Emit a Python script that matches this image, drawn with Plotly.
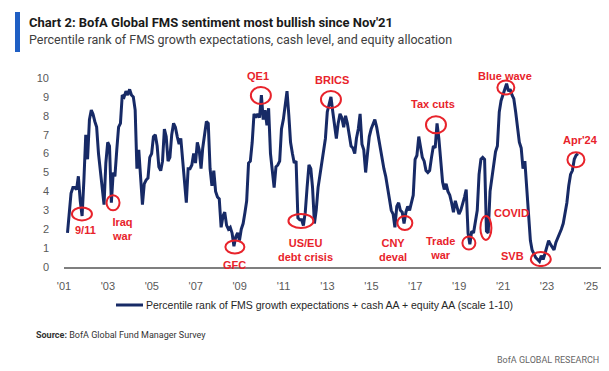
import pandas as pd
import plotly.graph_objects as go

# ---------------- data (monthly, Jan 2001 .. Apr 2024) ----------------
y2001 = [1.8, 2.9, 3.9, 4.2, 4.2, 4.1, 4.8, 3.5, 2.7, 4.6, 7.0, 5.7]
y2002 = [7.8, 8.3, 8.1, 7.7, 7.4, 6.0, 5.1, 4.5, 3.3, 5.5, 6.6, 6.4]
y2003 = [3.4, 5.0, 4.8, 6.2, 7.4, 7.6, 9.1, 9.0, 9.3, 9.1, 9.4, 9.1]
y2004 = [9.0, 8.3, 5.2, 6.2, 4.8, 3.3, 4.4, 4.6, 4.7, 5.8, 6.0, 6.9]
y2005 = [7.0, 6.4, 5.3, 5.1, 5.6, 7.3, 6.9, 5.6, 5.8, 7.0, 7.6, 7.4]
y2006 = [6.9, 6.5, 6.8, 5.5, 4.3, 3.4, 5.2, 5.2, 5.4, 6.0, 5.5, 6.6]
y2007 = [6.2, 5.2, 6.3, 7.1, 7.7, 7.6, 5.2, 4.3, 5.1, 4.0, 3.7, 3.6]
y2008 = [2.1, 2.7, 2.9, 2.2, 2.0, 2.1, 1.8, 1.1, 1.6, 1.8, 1.4, 2.0]
y2009 = [2.3, 2.9, 3.5, 5.5, 5.6, 6.6, 8.1, 7.9, 8.1, 7.9, 9.1, 7.8]
y2010 = [8.3, 7.5, 8.4, 6.0, 5.2, 4.2, 5.3, 5.4, 5.6, 7.3, 7.8, 8.7]
y2011 = [9.3, 8.0, 6.6, 6.0, 5.5, 5.6, 2.6, 2.5, 2.5, 2.2, 2.9, 4.2]
y2012 = [5.4, 5.2, 4.2, 2.3, 3.0, 4.2, 4.9, 5.5, 6.2, 6.8, 8.2, 8.6]
y2013 = [9.0, 8.2, 7.5, 6.8, 7.6, 8.1, 7.9, 7.4, 8.0, 7.6, 7.0, 6.4]
y2014 = [6.3, 6.0, 6.8, 7.3, 8.1, 6.5, 6.2, 5.0, 6.0, 6.9, 7.3, 7.5]
y2015 = [7.8, 7.4, 6.9, 6.3, 5.6, 5.2, 4.8, 4.3, 3.6, 3.0, 2.8, 2.1]
y2016 = [3.2, 3.4, 3.0, 2.9, 2.3, 2.9, 3.2, 3.0, 3.4, 3.8, 5.7, 5.9]
y2017 = [6.9, 6.2, 5.8, 5.6, 5.1, 5.0, 5.1, 5.8, 6.4, 6.3, 7.6, 6.8]
y2018 = [5.8, 4.5, 4.1, 4.4, 4.0, 3.8, 3.4, 2.9, 3.5, 3.2, 2.8, 3.0]
y2019 = [3.3, 3.7, 4.1, 1.8, 1.2, 1.9, 1.8, 2.5, 3.0, 4.9, 5.7, 5.8]
y2020 = [5.7, 1.9, 1.8, 4.0, 4.8, 5.5, 6.1, 6.4, 8.2, 8.8, 9.1, 9.5]
y2021 = [9.7, 9.3, 9.4, 9.1, 8.9, 8.2, 7.4, 6.6, 6.3, 5.2, 5.6, 4.2]
y2022 = [2.6, 1.4, 0.9, 0.7, 0.5, 0.4, 0.3, 0.6, 0.4, 0.7, 1.0, 1.4]
y2023 = [1.2, 1.0, 0.9, 1.3, 1.5, 1.8, 2.0, 2.3, 2.8, 3.4, 4.3, 4.9]
y2024 = [5.1, 5.7, 5.9, 6.0]

values = (y2001 + y2002 + y2003 + y2004 + y2005 + y2006 + y2007 + y2008 +
          y2009 + y2010 + y2011 + y2012 + y2013 + y2014 + y2015 + y2016 +
          y2017 + y2018 + y2019 + y2020 + y2021 + y2022 + y2023 + y2024)
dates = pd.date_range("2001-01-01", periods=len(values), freq="MS")

tick_years = ["'01", "'03", "'05", "'07", "'09", "'11", "'13", "'15", "'17",
              "'19", "'21", "'23", "'25"]
y_ticks = [0, 1, 2, 3, 4, 5, 6, 7, 8, 9, 10]

# event annotations: label, circle centre (months after Jan-01, value), circle size, label position
evt_text = ["9/11", "Iraq<br>war", "GFC", "QE1", "US/EU<br>debt crisis", "BRICS",
            "CNY<br>deval", "Tax cuts", "Trade<br>war", "COVID", "Blue wave", "SVB", "Apr'24"]
circ_m = [7.9, 24.9, 91.5, 105.7, 127.6, 144.0, 184.4, 201.4, 219.4, 228.7, 239.6, 258.7, 277.9]
circ_v = [2.81, 3.4, 1.06, 9.07, 2.44, 8.86, 2.33, 7.53, 1.27, 2.07, 9.5, 0.42, 5.68]
circ_w = [20, 13, 19, 20, 25, 20, 15, 20, 13, 11, 17, 20, 17]
circ_h = [13, 15, 13, 17, 14, 17, 14, 17, 13, 24, 14, 14, 15]
text_m = [9.6, 30.3, 91.5, 104.1, 130.3, 144.5, 177.9, 199.7, 204.1, 242.9, 239.1, 243.3, 280.6]
text_v = [1.96, 2.0, 0.1, 10.13, 0.9, 9.87, 0.9, 8.6, 1.0, 2.86, 10.13, 0.58, 6.74]

BASE = pd.Timestamp("2001-01-01")


def mdate(m):
    return (BASE + pd.Timedelta(days=m * 30.4375)).strftime("%Y-%m-%d %H:%M")


NAVY = "#172a66"
RED = "#e8232b"
GRAY = "#595959"
FONT = "Liberation Sans, Arial, sans-serif"

W, H = 609, 371
L, R, T, B = 56, 6, 70, 112
PW, PH = W - L - R, H - T - B
PX_PER_UNIT = PH / 10.0

fig = go.Figure()
fig.add_trace(go.Scatter(x=dates, y=values, mode="lines",
                         line=dict(color=NAVY, width=3),
                         name="Percentile rank", showlegend=False,
                         hoverinfo="skip"))

tickvals = [f"{2000 + 2 * i}-11-04" for i in range(len(tick_years))]

fig.update_layout(
    width=W, height=H,
    margin=dict(l=L, r=R, t=T, b=B),
    paper_bgcolor="white", plot_bgcolor="white",
    font=dict(family=FONT, size=11, color=GRAY),
    xaxis=dict(type="date", range=["2000-11-04", "2025-10-04"],
               tickvals=tickvals, ticktext=tick_years,
               showgrid=False, zeroline=False, showline=True,
               linecolor="#7f7f7f", linewidth=2, ticks="",
               ticklabelstandoff=8,
               tickfont=dict(family=FONT, size=11, color=GRAY)),
    yaxis=dict(range=[0, 10], tickvals=y_ticks, showgrid=False,
               zeroline=False, showline=False, ticks="",
               ticklabelstandoff=14,
               tickfont=dict(family=FONT, size=11, color=GRAY)),
)

shapes = []
annots = []
for i, txt in enumerate(evt_text):
    w, h = circ_w[i], circ_h[i]
    shapes.append(dict(type="circle", xref="x", yref="y",
                       xsizemode="pixel", ysizemode="pixel",
                       xanchor=mdate(circ_m[i]), yanchor=circ_v[i],
                       x0=-w / 2, x1=w / 2, y0=-h / 2, y1=h / 2,
                       line=dict(color=RED, width=2)))
    v = text_v[i]
    yv = min(v, 10.0)
    annots.append(dict(x=mdate(text_m[i]), y=yv, xref="x", yref="y",
                       yshift=(v - yv) * PX_PER_UNIT,
                       text=txt, showarrow=False, xanchor="center", yanchor="middle",
                       font=dict(family=FONT, size=11, color=RED, weight="bold")))


def px_x(x):
    return (x - L) / PW


def px_y(y):
    return (H - B - y) / PH


# title bar
shapes.append(dict(type="rect", xref="paper", yref="paper",
                   x0=px_x(7), x1=px_x(12), y0=px_y(44), y1=px_y(4),
                   fillcolor="#1f5fc4", line=dict(width=0)))
# legend sample line
shapes.append(dict(type="line", xref="paper", yref="paper",
                   x0=px_x(108), x1=px_x(135), y0=px_y(297), y1=px_y(297),
                   line=dict(color=NAVY, width=3)))

annots += [
    dict(x=px_x(19), y=px_y(14), xref="paper", yref="paper", xanchor="left",
         yanchor="middle", showarrow=False,
         text="Chart 2: BofA Global FMS sentiment most bullish since Nov'21",
         font=dict(family="Roboto, sans-serif", size=13, color="#1a1a1a", weight="bold")),
    dict(x=px_x(19), y=px_y(32), xref="paper", yref="paper", xanchor="left",
         yanchor="middle", showarrow=False,
         text="Percentile rank of FMS growth expectations, cash level, and equity allocation",
         font=dict(family="Roboto, sans-serif", size=12.5, color="#404040")),
    dict(x=px_x(136), y=px_y(297), xref="paper", yref="paper", xanchor="left",
         yanchor="middle", showarrow=False,
         text="Percentile rank of FMS growth expectations + cash AA + equity AA (scale 1-10)",
         font=dict(family=FONT, size=10.5, color="#262626")),
    dict(x=px_x(26), y=px_y(327), xref="paper", yref="paper", xanchor="left",
         yanchor="middle", showarrow=False,
         text="<b>Source:</b> BofA Global Fund Manager Survey",
         font=dict(family="Roboto, sans-serif", size=9, color="#333333")),
    dict(x=px_x(593), y=px_y(352), xref="paper", yref="paper", xanchor="right",
         yanchor="middle", showarrow=False,
         text="BofA GLOBAL RESEARCH",
         font=dict(family="Roboto, sans-serif", size=9, color="#666666")),
]

fig.update_layout(shapes=shapes, annotations=annots)
fig.write_html("out.html")
